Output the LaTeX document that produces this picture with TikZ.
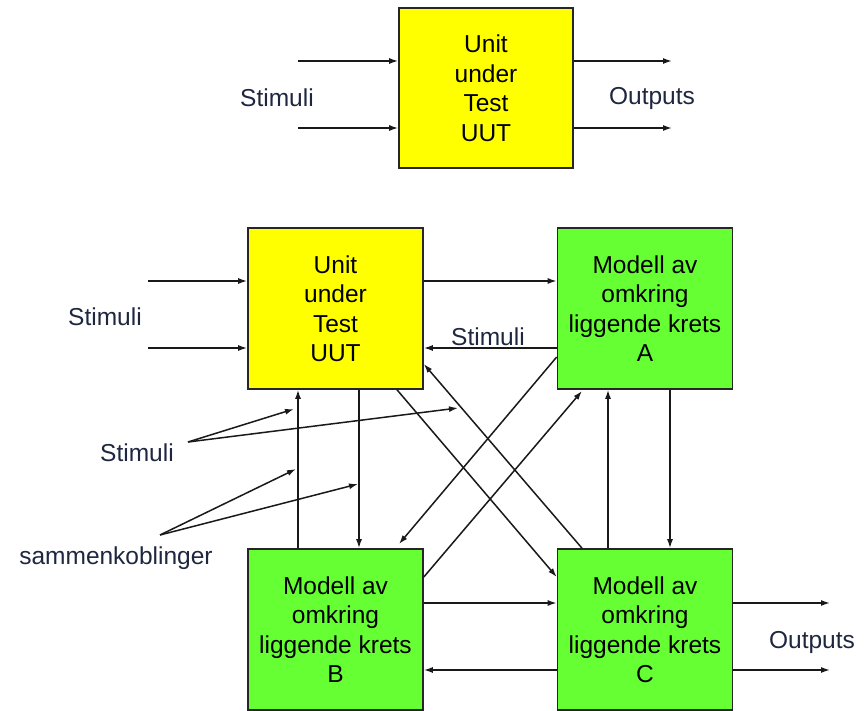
\documentclass[tikz,border=0pt]{standalone}
\usepackage{fontspec}
\setmainfont{Liberation Sans}
\usetikzlibrary{arrows.meta}
\definecolor{uutyellow}{HTML}{FFFF00}
\definecolor{modgreen}{HTML}{66FF33}
\definecolor{labelcol}{HTML}{1E2640}
\tikzset{
  box/.style={draw=black!85, line width=1.6pt, minimum width=175pt, minimum height=161pt,
    inner sep=0pt, align=center, font=\fontsize{24.5}{29.5}\selectfont},
  uutbox/.style={box, fill=uutyellow},
  modbox/.style={box, fill=modgreen},
  arr/.style={draw=black!90, line width=1.5pt, -{Latex[length=9pt,width=6pt]}},
  lbl/.style={text=labelcol, font=\fontsize{24.5}{29.5}\selectfont, inner sep=0pt},
}
\begin{document}
\begin{tikzpicture}[x=1pt,y=-1pt]
\useasboundingbox (0,0) rectangle (868,711);
% top
\node[uutbox, minimum width=174pt, minimum height=160pt] (top) at (486,88) {Unit\\under\\Test\\UUT};
\coordinate (ti1) at (298,61);
\coordinate (ti2) at (298,128);
\coordinate (to1) at (672,61);
\coordinate (to2) at (672,128);
\draw[arr] (ti1) -- (top.west |- ti1);
\draw[arr] (ti2) -- (top.west |- ti2);
\draw[arr] (top.east |- to1) -- (to1);
\draw[arr] (top.east |- to2) -- (to2);
\node[lbl] (stim0) at (277,98) {Stimuli};
\node[lbl] (out0) at (652,98) {Outputs};
% bottom boxes
\node[uutbox] (uut) at (335.5,308.5) {Unit\\under\\Test\\UUT};
\node[modbox] (A) at (645,308.5) {Modell av\\omkring\\liggende krets\\A};
\node[modbox] (B) at (335.5,629.5) {Modell av\\omkring\\liggende krets\\B};
\node[modbox] (C) at (645,629.5) {Modell av\\omkring\\liggende krets\\C};
% stimuli into UUT
\coordinate (si1) at (148,281);
\coordinate (si2) at (148,348);
\draw[arr] (si1) -- (uut.west |- si1);
\draw[arr] (si2) -- (uut.west |- si2);
\node[lbl] (stim1) at (105,317) {Stimuli};
% UUT <-> A
\draw[arr] (uut.east |- 0,281) -- (A.west |- 0,281);
\draw[arr] (A.west |- 0,348) -- (uut.east |- 0,348);
\node[lbl] (stim2) at (488,337) {Stimuli};
% B <-> C
\draw[arr] (B.east |- 0,603) -- (C.west |- 0,603);
\draw[arr] (C.west |- 0,670) -- (B.east |- 0,670);
% outputs of C
\coordinate (co1) at (830,603);
\coordinate (co2) at (830,670);
\draw[arr] (C.east |- co1) -- (co1);
\draw[arr] (C.east |- co2) -- (co2);
\node[lbl] (out1) at (812,642) {Outputs};
% verticals UUT <-> B
\draw[arr] (B.north -| 298,0) -- (uut.south -| 298,0);
\draw[arr] (uut.south -| 359,0) -- (B.north -| 359,0);
% verticals A <-> C
\draw[arr] (C.north -| 608,0) -- (A.south -| 608,0);
\draw[arr] (A.south -| 670,0) -- (C.north -| 670,0);
% diagonals
\draw[arr] (uut.south -| 397,0) -- (C.west |- 0,577);
\draw[arr] (C.north -| 582,0) -- (uut.east |- 0,364);
\coordinate (bn) at (399,544);
\draw[arr] (A.west |- 0,357) -- (bn);
\coordinate (as) at (582,391);
\draw[arr] (B.east |- 0,577) -- (as);
% label pointers
\node[lbl] (stim3) at (137,453) {Stimuli};
\coordinate (sp) at (188,442);
\coordinate (sp1) at (294,409);
\coordinate (sp2) at (458,408);
\draw[arr] (sp) -- (sp1);
\draw[arr] (sp) -- (sp2);
\node[lbl] (samm) at (116,558) {sammenkoblinger};
\coordinate (kp) at (160,535);
\coordinate (kp1) at (296,469);
\coordinate (kp2) at (358,484);
\draw[arr] (kp) -- (kp1);
\draw[arr] (kp) -- (kp2);
\end{tikzpicture}
\end{document}
